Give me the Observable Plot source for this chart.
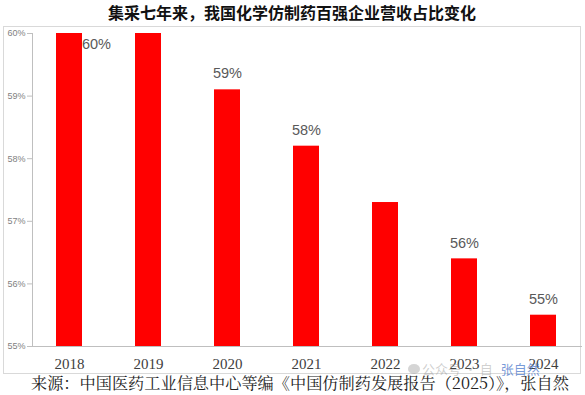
<!DOCTYPE html>
<html><head><meta charset="utf-8">
<script src="https://cdn.jsdelivr.net/npm/d3@7"></script>
<script src="https://cdn.jsdelivr.net/npm/@observablehq/plot@0.6"></script>
<style>
body{margin:0;background:#fff;width:585px;height:395px;overflow:hidden;position:relative;font-family:"Noto Sans CJK SC",sans-serif;}
#title{position:absolute;left:0;top:0px;width:584px;text-align:center;font-weight:bold;font-size:16px;line-height:24px;color:#111;}
#frame{position:absolute;left:3px;top:26px;width:578px;height:348px;border:1px solid #d9d9d9;box-sizing:border-box;}
#chart{position:absolute;left:0;top:0;}
#foot{position:absolute;left:31px;top:374px;font-family:"Noto Serif CJK SC","Noto Sans CJK SC",serif;font-size:16.2px;line-height:17px;color:#222;white-space:nowrap;}
#wm{position:absolute;left:422px;top:364px;font-size:13px;line-height:10px;color:rgba(150,150,150,0.45);white-space:nowrap;}
#wm span{color:rgba(60,110,200,0.7);margin-left:8px;}
#icon{position:absolute;left:408px;top:364px;width:12px;height:10px;border-radius:50%;background:rgba(150,150,150,0.4);}
</style></head>
<body>
<div id="title">集采七年来，我国化学仿制药百强企业营收占比变化</div>
<div id="frame"></div>
<div id="chart"></div>
<div id="icon"></div>
<div id="wm">公众号 · 自<span>张自然</span></div>
<div id="foot">来源：中国医药工业信息中心等编《中国仿制药发展报告（2025）》，张自然</div>
<script>
const years = ["2018","2019","2020","2021","2022","2023","2024"];
const shares = [60.0, 60.0, 59.1, 58.2, 57.3, 56.4, 55.5];
const labels = ["60%", "", "59%", "58%", "", "56%", "55%"];
const yTicks = [55,56,57,58,59,60];

const data = years.map((y,i)=>({year:y, value:shares[i], label:labels[i]}));
const above = data.filter((d,i)=>i>0 && d.label);
const side = data.filter((d,i)=>i===0);

const plot = Plot.plot({
  width:585, height:395,
  marginTop:33, marginBottom:49, marginLeft:32, marginRight:4,
  style:{background:"transparent", overflow:"visible"},
  x:{domain:years, paddingInner:0.67, paddingOuter:0.30, align:0.5, label:null},
  y:{domain:[55,60], label:null, clamp:true},
  marks:[
    Plot.barY(data,{x:"year", y1:55, y2:"value", fill:"#ff0000"}),
    Plot.frame({anchor:"left", stroke:"#bfbfbf"}),
    Plot.frame({anchor:"bottom", stroke:"#bfbfbf"}),
    Plot.axisY({ticks:yTicks, tickSize:5, tickPadding:2, tickFormat:d=>d+"%", fontSize:9, fill:"#7f7f7f", stroke:"#bfbfbf", fontFamily:"Liberation Sans, Arial, sans-serif"}),
    Plot.axisX({tickSize:0, tickPadding:12, fontSize:15, fill:"#404040", fontFamily:"Liberation Serif, DejaVu Serif, serif"}),
    Plot.text(above,{x:"year", y:"value", text:"label", dy:-16, fontSize:14.5, fill:"#595959", fontFamily:"Liberation Sans, Arial, sans-serif"}),
    Plot.text(side,{x:"year", y:"value", text:"label", dx:27, dy:11, fontSize:14.5, fill:"#595959", fontFamily:"Liberation Sans, Arial, sans-serif"})
  ]
});
document.getElementById("chart").appendChild(plot);
</script>
</body></html>
